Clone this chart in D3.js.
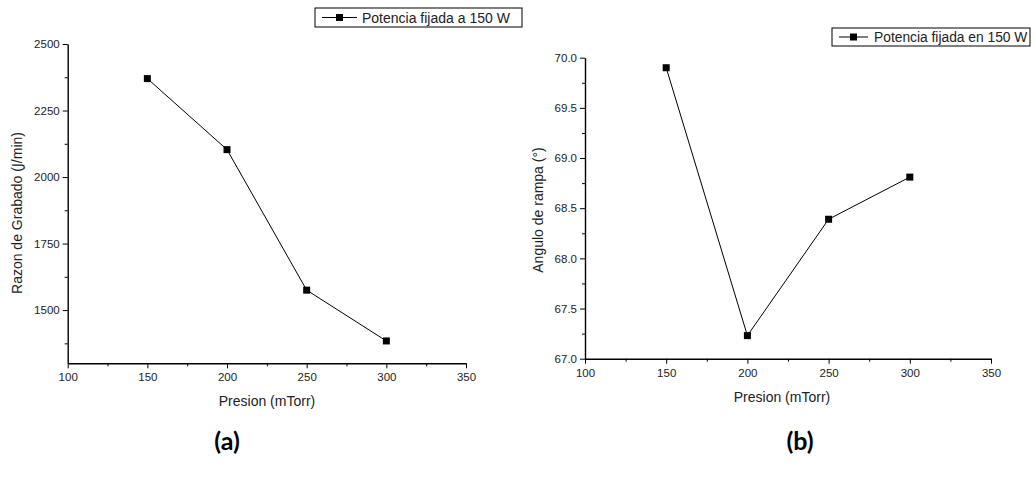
<!DOCTYPE html>
<html><head><meta charset="utf-8">
<script src="https://cdn.jsdelivr.net/npm/d3@7"></script>
<style>body{margin:0;background:#fff;} svg{display:block;font-family:"Liberation Sans",Arial,sans-serif;}</style>
</head><body>
<script>
const pressure = [150, 200, 250, 300];
const etchRate = [2370, 2103, 1575, 1384];
const rampAngle = [69.90, 67.23, 68.39, 68.81];
const xTicks = [100, 150, 200, 250, 300, 350];
const yTicksA = [1500, 1750, 2000, 2250, 2500];
const yTicksB = [67.0, 67.5, 68.0, 68.5, 69.0, 69.5, 70.0];
const legendA = "Potencia fijada a 150 W";
const legendB = "Potencia fijada en 150 W";

const svg = d3.select("body").append("svg").attr("width",1035).attr("height",480);

function panel(cfg){
  const x = d3.scaleLinear().domain([100,350]).range([cfg.x0,cfg.x1]);
  const y = d3.scaleLinear().domain(cfg.yDom).range([cfg.y1,cfg.y0]);
  const g = svg.append("g");
  const xMinor = d3.range(125,350,50);
  g.append("g").attr("transform",`translate(0,${cfg.y1})`)
    .call(d3.axisBottom(x).tickValues(xMinor).tickSize(3).tickFormat(""))
    .call(a=>a.select(".domain").remove());
  g.append("g").attr("transform",`translate(${cfg.x0},0)`)
    .call(d3.axisLeft(y).tickValues(cfg.yMinor).tickSize(3).tickFormat(""))
    .call(a=>a.select(".domain").remove());
  const ax = g.append("g").attr("transform",`translate(0,${cfg.y1})`)
    .call(d3.axisBottom(x).tickValues(xTicks).tickSize(5).tickSizeOuter(0).tickPadding(5).tickFormat(d3.format("d")));
  const ay = g.append("g").attr("transform",`translate(${cfg.x0},0)`)
    .call(d3.axisLeft(y).tickValues(cfg.yTicks).tickSize(5).tickSizeOuter(0).tickPadding(3).tickFormat(cfg.fmt));
  [ax,ay].forEach(a=>{
    a.select(".domain").attr("stroke","#000").attr("stroke-width",1.4);
    a.selectAll("text").style("font-size","11.5px").attr("fill","#222").style("font-family","'Liberation Sans', Arial, sans-serif");
  });
  g.selectAll(".tick line").attr("stroke","#000");
  const line = d3.line().x((d,i)=>x(pressure[i])).y(d=>y(d));
  g.append("path").datum(cfg.vals).attr("d",line).attr("fill","none").attr("stroke","#000").attr("stroke-width",1);
  g.selectAll("rect.m").data(cfg.vals).join("rect").attr("class","m")
    .attr("x",(d,i)=>x(pressure[i])-3.5).attr("y",d=>y(d)-3.5).attr("width",7).attr("height",7).attr("fill","#000");
  g.append("text").attr("x",cfg.xTitleX).attr("y",cfg.y1+43).attr("text-anchor","middle")
    .style("font-size","14px").attr("fill","#222").text("Presion (mTorr)");
  g.append("text").attr("transform",`translate(${cfg.yTitleX},${cfg.yTitleY}) rotate(-90)`).attr("text-anchor","middle")
    .style("font-size","14px").attr("fill","#222").text(cfg.yTitle);
  const L = cfg.leg;
  g.append("rect").attr("x",L.x).attr("y",L.y).attr("width",L.w).attr("height",L.h)
    .attr("fill","#fff").attr("stroke","#000").attr("stroke-width",1);
  const cy = L.y+L.h/2;
  g.append("line").attr("x1",L.lx0).attr("x2",L.lx1).attr("y1",cy).attr("y2",cy).attr("stroke","#000");
  g.append("rect").attr("x",(L.lx0+L.lx1)/2-3.5).attr("y",cy-3.5).attr("width",7).attr("height",7).attr("fill","#000");
  g.append("text").attr("x",L.tx).attr("y",cy+5).style("font-size",L.fs+"px").attr("fill","#222").text(L.text);
}

panel({x0:67.7,x1:466,y0:44,y1:363.3,yDom:[1300,2500],yTicks:yTicksA,yMinor:d3.range(1375,2500,250),
  fmt:d3.format("d"),vals:etchRate,yTitle:"Razon de Grabado (Ϳ/min)",yTitleX:22,yTitleY:213,xTitleX:267,
  leg:{x:315,y:8,w:207,h:19,lx0:322,lx1:357,tx:362,fs:14,text:legendA}});
panel({x0:585,x1:991,y0:57.7,y1:358.7,yDom:[67,70],yTicks:yTicksB,yMinor:d3.range(67.25,70,0.5),
  fmt:d3.format(".1f"),vals:rampAngle,yTitle:"Angulo de rampa (°)",yTitleX:543,yTitleY:210,xTitleX:782,
  leg:{x:832,y:28,w:198,h:18,lx0:839,lx1:868,tx:874,fs:13.8,text:legendB}});

svg.append("text").attr("x",227).attr("y",450).attr("text-anchor","middle").style("font-family","Lato, sans-serif")
  .attr("font-weight","bold").style("font-size","25px").attr("fill","#000").text("(a)");
svg.append("text").attr("x",800).attr("y",450).attr("text-anchor","middle").style("font-family","Lato, sans-serif")
  .attr("font-weight","bold").style("font-size","25px").attr("fill","#000").text("(b)");
</script>
</body></html>
